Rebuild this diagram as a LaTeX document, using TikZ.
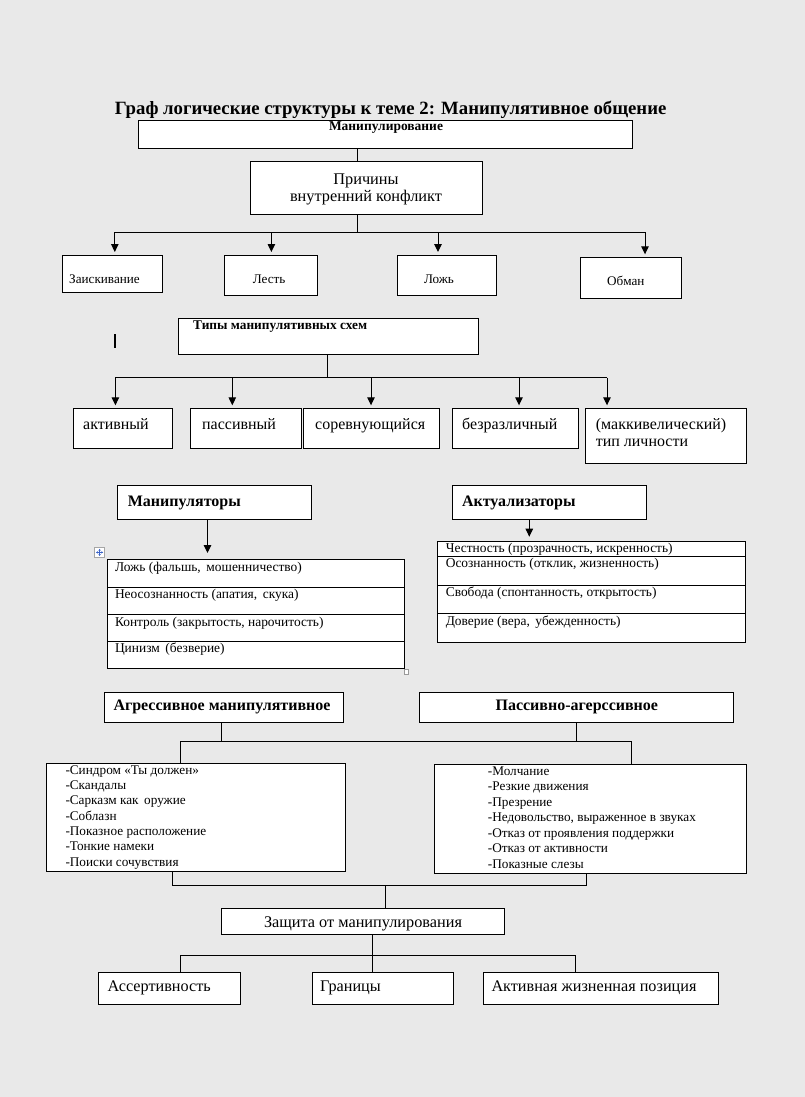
\documentclass[tikz,border=0pt]{standalone}
\usepackage{fontspec}
\setmainfont{Liberation Serif}
\usetikzlibrary{arrows.meta}
\definecolor{bg}{RGB}{233,233,233}
\definecolor{iconblue}{RGB}{60,100,200}
\newlength\tmpw
\newcommand\mkfont[3]{\settowidth\tmpw{\fontsize{10}{12}\selectfont #3}\pgfmathsetmacro#1{10*#2/\tmpw}}
\newcommand\fz[1]{\fontsize{#1}{#1}\selectfont}
\tikzset{
  box/.style={draw=black, fill=white, line width=1pt, inner sep=0pt, anchor=north west},
  conn/.style={draw=black, line width=1pt},
  arr/.style={conn, -{Triangle[length=8pt,width=7.5pt]}, shorten >=3pt},
  txt/.style={inner sep=0pt, anchor=base west, text=black},
  ctxt/.style={inner sep=0pt, anchor=base, text=black},
}
\newcommand\bx[5]{\node[box, minimum width={#3-#1}, minimum height={#4-#2}] (#5) at (#1,#2) {};}
\begin{document}
% font sizes fitted to the reference widths
\mkfont\fTitle{551.5}{\bfseries Граф логические структуры к теме 2: Манипулятивное общение}%
\mkfont\fManT{114}{\bfseries Манипулирование}%
\mkfont\fTipy{174}{\bfseries Типы манипулятивных схем}%
\mkfont\fPrich{152}{внутренний конфликт}%
\mkfont\fSmall{70.6}{Заискивание}%
\mkfont\fTypes{110}{соревнующийся}%
\mkfont\fHead{113}{\bfseries Манипуляторы}%
\mkfont\fTab{208.5}{Контроль (закрытость, нарочитость)}%
\mkfont\fAgg{217}{\bfseries Агрессивное манипулятивное}%
\mkfont\fList{208}{-Недовольство, выраженное в звуках}%
\mkfont\fZash{198}{Защита от манипулирования}%
\mkfont\fBot{205}{Активная жизненная позиция}%
\begin{tikzpicture}[x=1pt,y=-1pt]
\useasboundingbox[fill=bg] (0,0) rectangle (805,1097);

% title
\node[ctxt, font=\fz{\fTitle}\bfseries] (title) at (390.7,115) {Граф логические структуры к теме 2: Манипулятивное общение};

% boxes
\bx{138}{120}{632}{148}{manip}
\bx{250}{161}{482}{214}{prich}
\bx{61.6}{255}{161.7}{292.3}{zaisk}
\bx{223.7}{255}{317.3}{294.7}{lest}
\bx{397}{255}{496.4}{295.3}{lozh}
\bx{580.4}{257.3}{681.4}{298.3}{obman}
\bx{178.3}{318.3}{478.3}{354}{tipy}
\bx{73.4}{408.3}{171.6}{447.7}{aktv}
\bx{190.4}{408.3}{301}{447.7}{pasv}
\bx{303.3}{408.3}{438.6}{447.7}{sorv}
\bx{451.5}{408.3}{577.9}{447.7}{bezr}
\bx{585.4}{408.3}{746}{462.7}{makk}
\bx{116.5}{485}{311.4}{519.3}{manH}
\bx{452.4}{485}{646.4}{519.3}{aktH}
\bx{107}{559}{404}{586.7}{manT1}
\bx{107}{586.7}{404}{614.3}{manT2}
\bx{107}{614.3}{404}{641.3}{manT3}
\bx{107}{641.3}{404}{668.3}{manT4}
\bx{437.4}{540.7}{745.1}{556}{aktT1}
\bx{437.4}{556}{745.1}{585.3}{aktT2}
\bx{437.4}{585.3}{745.1}{613.3}{aktT3}
\bx{437.4}{613.3}{745.1}{642.3}{aktT4}
\bx{104.3}{691.7}{343}{721.7}{aggH}
\bx{419.2}{691.7}{733.3}{721.7}{pasH}
\bx{45.5}{763.3}{345.3}{870.7}{aggL}
\bx{434}{764.3}{745.7}{872.7}{pasL}
\bx{221.4}{908.3}{504.2}{934.3}{zash}
\bx{98.3}{972.3}{240}{1004.3}{asser}
\bx{311.8}{972.3}{452.8}{1004.3}{gran}
\bx{482.6}{972.3}{718.1}{1004.3}{aktiv}

% table move icon and resize handle
\node[draw=gray!70, fill=white, line width=0.5pt, minimum width=10pt, minimum height=10pt, inner sep=0pt] (mv) at (99.6,552.4) {};
\draw[iconblue, line width=0.8pt, {Latex[length=2pt,width=2.5pt]}-{Latex[length=2pt,width=2.5pt]}] ([xshift=1.5pt]mv.west) -- ([xshift=-1.5pt]mv.east);
\draw[iconblue, line width=0.8pt, {Latex[length=2pt,width=2.5pt]}-{Latex[length=2pt,width=2.5pt]}] ([yshift=-1.5pt]mv.north) -- ([yshift=1.5pt]mv.south);
\node[draw=gray!80, fill=white, line width=0.5pt, minimum width=4.5pt, minimum height=4.5pt, inner sep=0pt] (hdl) at (406,671.5) {};
% text cursor
\coordinate (cur1) at (114.8,334);
\coordinate (cur2) at (114.8,348);
\draw[line width=1.4pt] (cur1) -- (cur2);

% texts
\node[ctxt, font=\fz{\fManT}\bfseries] (tManip) at (386,130.7) {Манипулирование};
\node[ctxt, font=\fz{\fPrich}] (tPrich1) at (366,184) {Причины};
\node[ctxt, font=\fz{\fPrich}] (tPrich2) at (366,201) {внутренний конфликт};
\node[txt, font=\fz{\fSmall}] (tZaisk) at (69,283) {Заискивание};
\node[txt, font=\fz{\fSmall}] (tLest) at (252.6,283.5) {Лесть};
\node[txt, font=\fz{\fSmall}] (tLozh) at (423.8,283.5) {Ложь};
\node[txt, font=\fz{\fSmall}] (tObman) at (607,285.5) {Обман};
\node[txt, font=\fz{\fTipy}\bfseries] (tTipy) at (193,329) {Типы манипулятивных схем};
\node[txt, font=\fz{\fTypes}] (tAktv) at (83,429) {активный};
\node[txt, font=\fz{\fTypes}] (tPasv) at (202,429) {пассивный};
\node[txt, font=\fz{\fTypes}] (tSorv) at (315,429) {соревнующийся};
\node[txt, font=\fz{\fTypes}] (tBezr) at (462,429) {безразличный};
\node[txt, font=\fz{\fTypes}] (tMakk1) at (595.7,429) {(маккивелический)};
\node[txt, font=\fz{\fTypes}] (tMakk2) at (595.7,446.7) {тип личности};
\node[txt, font=\fz{\fHead}\bfseries] (tManH) at (127.6,506) {Манипуляторы};
\node[txt, font=\fz{\fHead}\bfseries] (tAktH) at (461.8,506) {Актуализаторы};
\node[txt, font=\fz{\fTab}] (tM1) at (114.8,571) {Ложь (фальшь, \,мошенничество)};
\node[txt, font=\fz{\fTab}] (tM2) at (114.8,598.3) {Неосознанность (апатия, \,скука)};
\node[txt, font=\fz{\fTab}] (tM3) at (114.8,626.7) {Контроль (закрытость, нарочитость)};
\node[txt, font=\fz{\fTab}] (tM4) at (114.8,652.7) {Цинизм \,(безверие)};
\node[txt, font=\fz{\fTab}] (tA1) at (445.6,552.7) {Честность (прозрачность, искренность)};
\node[txt, font=\fz{\fTab}] (tA2) at (445.6,567.3) {Осознанность (отклик, жизненность)};
\node[txt, font=\fz{\fTab}] (tA3) at (445.6,596.7) {Свобода (спонтанность, открытость)};
\node[txt, font=\fz{\fTab}] (tA4) at (445.6,625) {Доверие (вера, \,убежденность)};
\node[ctxt, font=\fz{\fAgg}\bfseries] (tAggH) at (222,710.7) {Агрессивное манипулятивное};
\node[ctxt, font=\fz{\fAgg}\bfseries] (tPasH) at (576.8,710.7) {Пассивно-агерссивное};
\node[txt, font=\fz{\fList}] (tL1) at (65.3,774.3) {-Синдром «Ты должен»};
\node[txt, font=\fz{\fList}] (tL2) at (65.3,789.6) {-Скандалы};
\node[txt, font=\fz{\fList}] (tL3) at (65.3,804.9) {-Сарказм как \,оружие};
\node[txt, font=\fz{\fList}] (tL4) at (65.3,820.2) {-Соблазн};
\node[txt, font=\fz{\fList}] (tL5) at (65.3,835.5) {-Показное расположение};
\node[txt, font=\fz{\fList}] (tL6) at (65.3,850.8) {-Тонкие намеки};
\node[txt, font=\fz{\fList}] (tL7) at (65.3,866.1) {-Поиски сочувствия};
\node[txt, font=\fz{\fList}] (tR1) at (487.7,775) {-Молчание};
\node[txt, font=\fz{\fList}] (tR2) at (487.7,790.5) {-Резкие движения};
\node[txt, font=\fz{\fList}] (tR3) at (487.7,806) {-Презрение};
\node[txt, font=\fz{\fList}] (tR4) at (487.7,821.5) {-Недовольство, выраженное в звуках};
\node[txt, font=\fz{\fList}] (tR5) at (487.7,837) {-Отказ от проявления поддержки};
\node[txt, font=\fz{\fList}] (tR6) at (487.7,852.5) {-Отказ от активности};
\node[txt, font=\fz{\fList}] (tR7) at (487.7,868) {-Показные слезы};
\node[ctxt, font=\fz{\fZash}] (tZash) at (363,927) {Защита от манипулирования};
\node[txt, font=\fz{\fBot}] (tAsser) at (107.4,991.7) {Ассертивность};
\node[txt, font=\fz{\fBot}] (tGran) at (320,991.7) {Границы};
\node[txt, font=\fz{\fBot}] (tAktiv) at (491.3,991.7) {Активная жизненная позиция};

% bus points
\coordinate (b1) at (357,232.3);
\coordinate (b1L) at (114.8,232.3);
\coordinate (b1R) at (645,232.3);
\coordinate (b2) at (327,377.7);
\coordinate (b2L) at (115.4,377.7);
\coordinate (b2R) at (607,377.7);
\coordinate (b3L) at (180,741);
\coordinate (b3R) at (631,741);
\coordinate (b4L) at (172.6,885);
\coordinate (b4R) at (586.3,885);
\coordinate (b4) at (385,885);
\coordinate (b5L) at (180.4,955);
\coordinate (b5R) at (575.9,955);

% connectors
\draw[conn] (manip.south -| 357,0) -- (prich.north -| 357,0);
\draw[conn] (prich.south -| b1) -- (b1);
\draw[conn] (b1L) -- (b1R);
\draw[arr] (b1L) -- (zaisk.north -| b1L);
\draw[arr] (b1L -| 271.4,0) -- (lest.north -| 271.4,0);
\draw[arr] (b1L -| 438,0) -- (lozh.north -| 438,0);
\draw[arr] (b1R) -- (obman.north -| b1R);

\draw[conn] (tipy.south -| b2) -- (b2);
\draw[conn] (b2L) -- (b2R);
\draw[arr] (b2L) -- (aktv.north -| b2L);
\draw[arr] (b2L -| 232.3,0) -- (pasv.north -| 232.3,0);
\draw[arr] (b2L -| 371,0) -- (sorv.north -| 371,0);
\draw[arr] (b2L -| 519,0) -- (bezr.north -| 519,0);
\draw[arr] (b2R) -- (makk.north -| b2R);

\draw[arr, shorten >=6pt] (manH.south -| 207.5,0) -- (manT1.north -| 207.5,0);
\draw[arr, shorten >=4pt] (aktH.south -| 529.3,0) -- (aktT1.north -| 529.3,0);

\draw[conn] (aggH.south -| 221,0) -- (b3L -| 221,0);
\draw[conn] (pasH.south -| 576.3,0) -- (b3L -| 576.3,0);
\draw[conn] (b3L) -- (b3R);
\draw[conn] (b3L) -- (aggL.north -| b3L);
\draw[conn] (b3R) -- (pasL.north -| b3R);

\draw[conn] (aggL.south -| b4L) -- (b4L) -- (b4R) -- (pasL.south -| b4R);
\draw[conn] (b4) -- (zash.north -| b4);
\draw[conn] (zash.south -| 372.3,0) -- (b5L -| 372.3,0);
\draw[conn] (b5L) -- (b5R);
\draw[conn] (b5L) -- (asser.north -| b5L);
\draw[conn] (b5L -| 372.3,0) -- (gran.north -| 372.3,0);
\draw[conn] (b5R) -- (aktiv.north -| b5R);
\end{tikzpicture}
\end{document}
